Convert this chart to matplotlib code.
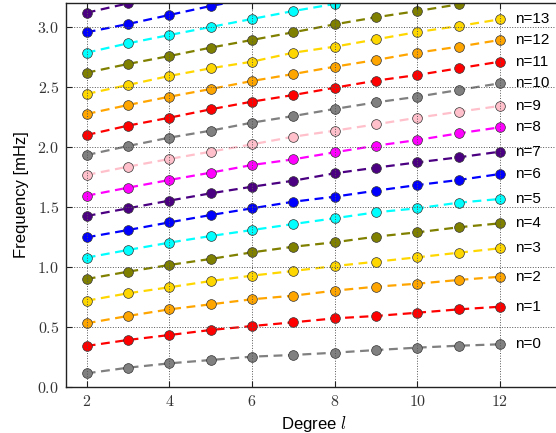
import numpy as np
import matplotlib
matplotlib.use("Agg")
import matplotlib.pyplot as plt
from matplotlib.ticker import FixedLocator, FuncFormatter

plt.rcParams['mathtext.fontset'] = 'cm'
plt.rcParams['font.family'] = ['Liberation Sans', 'DejaVu Sans']

degrees = [2, 3, 4, 5, 6, 7, 8, 9, 10, 11, 12]

freq_n0 = [0.114, 0.161, 0.197, 0.225, 0.253, 0.267, 0.286, 0.308, 0.328, 0.344, 0.356]
freq_n1 = [0.342, 0.392, 0.433, 0.475, 0.508, 0.539, 0.572, 0.592, 0.619, 0.647, 0.669]
freq_n2 = [0.531, 0.592, 0.647, 0.689, 0.731, 0.761, 0.803, 0.836, 0.861, 0.892, 0.919]
freq_n3 = [0.719, 0.781, 0.831, 0.883, 0.928, 0.967, 1.008, 1.044, 1.081, 1.119, 1.156]
freq_n4 = [0.900, 0.961, 1.017, 1.067, 1.122, 1.169, 1.206, 1.253, 1.289, 1.331, 1.364]
freq_n5 = [1.078, 1.142, 1.203, 1.258, 1.308, 1.358, 1.406, 1.456, 1.489, 1.536, 1.567]
freq_n6 = [1.247, 1.308, 1.372, 1.433, 1.489, 1.544, 1.586, 1.636, 1.683, 1.725, 1.775]
freq_n7 = [1.425, 1.489, 1.553, 1.614, 1.669, 1.719, 1.781, 1.828, 1.872, 1.914, 1.961]
freq_n8 = [1.594, 1.661, 1.725, 1.786, 1.850, 1.897, 1.956, 2.011, 2.058, 2.114, 2.164]
freq_n9 = [1.767, 1.836, 1.900, 1.961, 2.022, 2.086, 2.136, 2.189, 2.244, 2.294, 2.342]
freq_n10 = [1.933, 2.008, 2.078, 2.136, 2.203, 2.258, 2.317, 2.372, 2.419, 2.475, 2.531]
freq_n11 = [2.100, 2.178, 2.244, 2.314, 2.378, 2.433, 2.494, 2.553, 2.600, 2.656, 2.711]
freq_n12 = [2.275, 2.350, 2.419, 2.483, 2.550, 2.608, 2.669, 2.725, 2.786, 2.836, 2.892]
freq_n13 = [2.442, 2.517, 2.592, 2.656, 2.711, 2.786, 2.836, 2.897, 2.958, 3.008, 3.064]
freq_n14 = [2.619, 2.692, 2.758, 2.828, 2.892, 2.956, 3.022, 3.081, 3.133, 3.189, 3.240]
freq_n15 = [2.786, 2.864, 2.933, 3.000, 3.067, 3.133, 3.192, 3.250, 3.300, 3.360, 3.410]
freq_n16 = [2.956, 3.025, 3.100, 3.175, 3.240, 3.300, 3.360, 3.420, 3.470, 3.530, 3.580]
freq_n17 = [3.119, 3.197, 3.270, 3.340, 3.410, 3.470, 3.530, 3.590, 3.650, 3.710, 3.760]

series = [freq_n0, freq_n1, freq_n2, freq_n3, freq_n4, freq_n5, freq_n6, freq_n7, freq_n8,
          freq_n9, freq_n10, freq_n11, freq_n12, freq_n13, freq_n14, freq_n15, freq_n16, freq_n17]
labels = ["n=%d" % i for i in range(14)]

palette = ['#808080', '#FF0000', '#FFA500', '#FFD700', '#808000',
           '#00FFFF', '#0000FF', '#4B0082', '#FF00FF', '#FFC0CB']

xticks = [2, 4, 6, 8, 10, 12]
yticks = [0.0, 0.5, 1.0, 1.5, 2.0, 2.5, 3.0]

fig = plt.figure(figsize=(5.56, 4.33), dpi=100)
ax = fig.add_axes([66/556, 46/433, (562-66)/556, (430-46)/433])

for i, vals in enumerate(series):
    c = palette[i % len(palette)]
    ax.plot(degrees, vals, linestyle='--', dashes=(4, 2.5), color=c, lw=1.6,
            marker='o', markersize=7, markerfacecolor=c,
            markeredgecolor='#333333', markeredgewidth=0.5, zorder=2)
    if i < len(labels):
        ax.text(12.36, vals[-1], labels[i], fontsize=11, va='center', ha='left',
                color='black', zorder=4)

ax.set_xlim(1.5, 13.5)
ax.set_ylim(0.0, 3.2)
ax.xaxis.set_major_locator(FixedLocator(xticks))
ax.yaxis.set_major_locator(FixedLocator(yticks))
ax.xaxis.set_major_formatter(FuncFormatter(lambda v, p: r"$%d$" % v))
ax.yaxis.set_major_formatter(FuncFormatter(lambda v, p: r"$%.1f$" % v))
ax.tick_params(direction='in', top=True, right=True, length=4, width=0.8,
               labelsize=11.5, pad=5, colors='#222222', labelcolor='#333333')
ax.grid(True, linestyle=':', color='#555555', lw=0.7, zorder=3)
ax.set_axisbelow(False)
for s in ax.spines.values():
    s.set_color('#222222')
    s.set_linewidth(1.0)

ax.set_xlabel(r"Degree $l$", fontsize=12, labelpad=4)
ax.set_ylabel("Frequency [mHz]", fontsize=12, labelpad=6)

fig.savefig("out.png", dpi=100)
